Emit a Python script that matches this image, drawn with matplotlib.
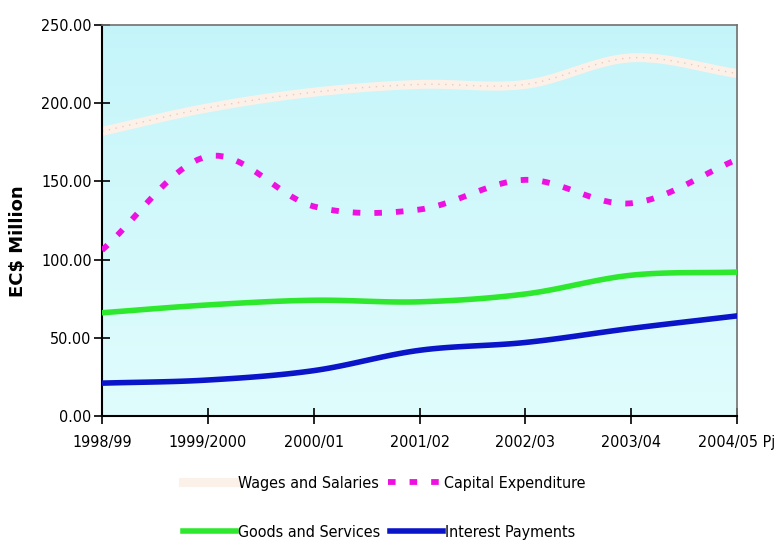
import numpy as np
import matplotlib.pyplot as plt
from matplotlib.lines import Line2D

plt.rcParams['font.family'] = ['DejaVu Sans']
plt.rcParams['font.stretch'] = 'condensed'

# data
years = ['1998/99', '1999/2000', '2000/01', '2001/02', '2002/03', '2003/04', '2004/05 Pj']
wages = [182, 197, 207, 212, 212, 229, 219]
capital = [106, 166, 134, 132, 151, 136, 164]
goods = [66, 71, 74, 73, 78, 90, 92]
interest = [21, 23, 29, 42, 47, 56, 64]


def smooth(y, n=20):
    # Catmull-Rom style curve through the points, like the spreadsheet "smoothed line"
    y = np.asarray(y, dtype=float)
    p = np.concatenate([[2 * y[0] - y[1]], y, [2 * y[-1] - y[-2]]])
    xs, ys = [], []
    for i in range(len(y) - 1):
        p0, p1, p2, p3 = p[i], p[i + 1], p[i + 2], p[i + 3]
        t = np.linspace(0, 1, n, endpoint=False)
        v = 0.5 * ((2 * p1) + (-p0 + p2) * t + (2 * p0 - 5 * p1 + 4 * p2 - p3) * t ** 2
                   + (-p0 + 3 * p1 - 3 * p2 + p3) * t ** 3)
        xs.append(i + t)
        ys.append(v)
    xs.append([len(y) - 1])
    ys.append([y[-1]])
    return np.concatenate(xs), np.concatenate(ys)


fig = plt.figure(figsize=(7.75, 5.43), dpi=100)
ax = fig.add_axes([0.1316, 0.2339, 0.8194, 0.7201])

# light cyan gradient background
grad = np.linspace(0, 1, 256).reshape(-1, 1)
top = np.array([0.77, 0.96, 0.98])
bot = np.array([0.88, 0.99, 0.99])
img = top + (bot - top) * grad
ax.imshow(img[:, None, :].repeat(2, axis=1), extent=[0, 1, 0, 1], transform=ax.transAxes,
          aspect='auto', zorder=0)

x = np.arange(len(years))

wage_style = dict(color='#fcf1e8', lw=6.5)
cap_style = dict(color='#ee10e0', lw=4.2, ls=(0, (1.3, 2.4)))
goods_style = dict(color='#2ee82e', lw=4)
int_style = dict(color='#0a14c8', lw=4)

sx, sy = smooth(wages)
ax.plot(sx, sy, solid_capstyle='butt', zorder=2, **wage_style)
ax.plot(sx, sy, color='#efc8b8', lw=1, ls=(0, (1, 4)), zorder=2)

sx, sy = smooth(capital)
ax.plot(sx, sy, dash_capstyle='butt', zorder=3, **cap_style)

sx, sy = smooth(goods)
ax.plot(sx, sy, zorder=3, **goods_style)

sx, sy = smooth(interest)
ax.plot(sx, sy, zorder=3, **int_style)

ax.set_xlim(0, len(years) - 1)
ax.set_ylim(0, 250)
ax.set_xticks(x)
ax.set_xticklabels(years, fontsize=11.5)
ax.set_yticks(np.arange(0, 251, 50))
ax.set_yticklabels(['%.2f' % v for v in np.arange(0, 251, 50)], fontsize=11.5)
ax.tick_params(axis='both', direction='inout', length=11, width=1.2, colors='black')
ax.tick_params(axis='x', pad=8)
ax.tick_params(axis='y', pad=2)

for s in ['left', 'bottom']:
    ax.spines[s].set_linewidth(1.5)
    ax.spines[s].set_color('black')
for s in ['top', 'right']:
    ax.spines[s].set_linewidth(1.2)
    ax.spines[s].set_color('#707070')

fig.text(0.023, 0.555, r'EC\$ Million', rotation=90, fontsize=13, fontweight='bold',
         ha='center', va='center', fontstretch='normal')

# legend rows flow left to right, both starting at the same x
leg_kw = dict(ncol=2, loc='center left', frameon=False, fontsize=11.5, handlelength=3.3,
              handletextpad=0.15, columnspacing=0.6, borderpad=0, borderaxespad=0)
fig.legend([Line2D([], [], **wage_style), Line2D([], [], **cap_style)],
           ['Wages and Salaries', 'Capital Expenditure'],
           bbox_to_anchor=(0.236, 0.110), **leg_kw)
fig.legend([Line2D([], [], **goods_style), Line2D([], [], **int_style)],
           ['Goods and Services', 'Interest Payments'],
           bbox_to_anchor=(0.236, 0.020), **leg_kw)

fig.savefig('out.png', dpi=100)
